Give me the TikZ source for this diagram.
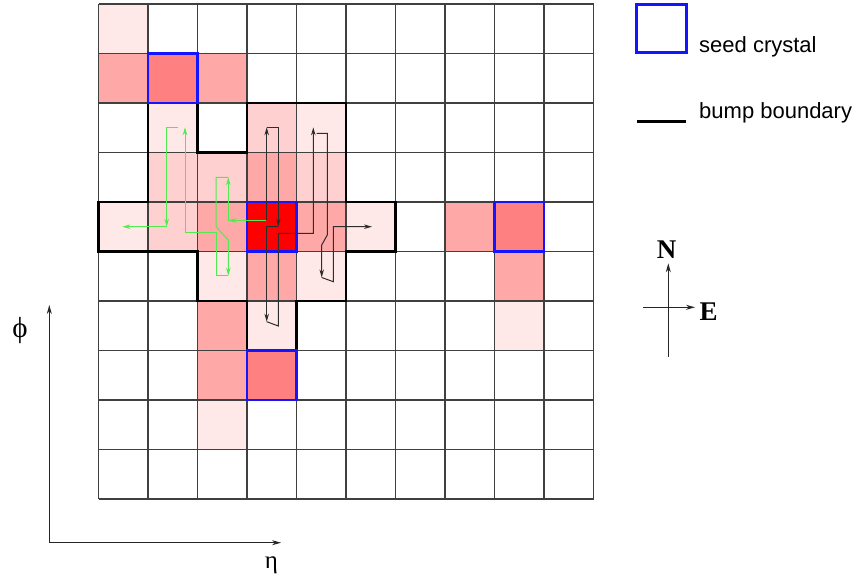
\documentclass[tikz,border=0pt]{standalone}
\usepackage{fontspec}
\setmainfont{Liberation Sans}
\newfontfamily\serifgr{Liberation Serif}
\usetikzlibrary{arrows.meta}
\definecolor{pA}{RGB}{255,232,232}
\definecolor{pB}{RGB}{255,208,208}
\definecolor{pC}{RGB}{255,168,168}
\definecolor{pD}{RGB}{255,128,128}
\definecolor{pE}{RGB}{255,0,0}
\definecolor{gline}{RGB}{80,235,80}
\definecolor{dline}{RGB}{45,45,45}
\definecolor{seedblue}{RGB}{20,20,255}
\begin{document}
\begin{tikzpicture}[x=1pt,y=-1pt,
  gridline/.style={draw=black!75,line width=1.2pt},
  bumpline/.style={draw=black,line width=2.4pt,line join=miter},
  seedbox/.style={draw=seedblue,line width=2.4pt},
  tip/.style={-{Stealth[length=8pt,width=4.5pt]}},
  garrow/.style={draw=gline,line width=1pt,tip},
  darrow/.style={draw=dline,line width=1pt,tip},
  axisarrow/.style={draw=black!85,line width=1pt,-{Stealth[length=9pt,width=5pt]}},
  lbl/.style={inner sep=0pt,anchor=base west,font=\fontsize{22}{24}\selectfont}]
\useasboundingbox (0,0) rectangle (858,580);
\fill[white] (0,0) rectangle (858,580);
% cell fills
\foreach \c/\r/\col in {0/0/pA, 0/1/pC, 1/1/pD, 2/1/pC,
  1/2/pA, 3/2/pB, 4/2/pA,
  1/3/pB, 2/3/pB, 3/3/pC, 4/3/pB,
  0/4/pA, 1/4/pB, 2/4/pC, 3/4/pE, 4/4/pC, 5/4/pA, 7/4/pC, 8/4/pD,
  2/5/pA, 3/5/pC, 4/5/pA, 8/5/pC,
  2/6/pC, 3/6/pA, 8/6/pA,
  2/7/pC, 3/7/pD,
  2/8/pA}
  \fill[\col] ({98.5+\c*49.5},{4+\r*49.5}) rectangle ++(49.5,49.5);
% grid
\foreach \i in {0,...,10}{
  \draw[gridline] ({98.5+\i*49.5},4) -- ({98.5+\i*49.5},499);
  \draw[gridline] (98.5,{4+\i*49.5}) -- (593.5,{4+\i*49.5});
}
% bump boundary
\draw[bumpline] (148,103) -- (197.5,103) -- (197.5,152.5) -- (247,152.5) -- (247,103)
  -- (346,103) -- (346,202) -- (395.5,202) -- (395.5,251.5) -- (346,251.5)
  -- (346,301) -- (296.5,301) -- (296.5,350.5) -- (247,350.5) -- (247,301)
  -- (197.5,301) -- (197.5,251.5) -- (98.5,251.5) -- (98.5,202) -- (148,202) -- cycle;
% seed crystals
\foreach \c/\r in {1/1, 3/4, 8/4, 3/7}
  \draw[seedbox] ({98.5+\c*49.5},{4+\r*49.5}) rectangle ++(49.5,49.5);
% green path
\draw[garrow] (265.7,220.5) -- (228.3,220.5);
\draw[garrow] (228.3,220.5) -- (228.3,177.3);
\draw[garrow] (228.3,177.3) -- (216,177.3) -- (216,226.7) -- (228.3,240) -- (228.3,275.7);
\draw[garrow] (228.3,275.7) -- (216,275.7) -- (216,232.7) -- (185,232.7) -- (185,127.3);
\draw[garrow] (178,127.3) -- (166.7,127.3) -- (166.7,226.7);
\draw[garrow] (166.7,226.7) -- (122.3,226.7);
% dark path
\draw[darrow] (266.7,220) -- (266.7,127.3);
\draw[darrow] (266.7,127.3) -- (278.3,127.3) -- (278.3,226.7);
\draw[darrow] (278.3,226.7) -- (266.7,226.7) -- (266.7,321.7);
\draw[darrow] (266.7,321.7) -- (278.3,326) -- (278.3,233.3) -- (313.3,233.3) -- (313.3,127.3);
\draw[darrow] (316.7,133.3) -- (327.3,133.3) -- (327.3,235) -- (321.7,245) -- (321.7,277.5);
\draw[darrow] (321.7,277.5) -- (333.3,281.7) -- (333.3,226.7) -- (372,226.7);
% legend
\draw[seedbox] (636.5,4.5) rectangle (686.5,52.5);
\node[lbl] (seedtxt) at (699,52.5) {seed crystal};
\draw[draw=black,line width=2.4pt] (637,121.5) -- (686,121.5);
\node[lbl] (bumptxt) at (699,119) {bump boundary};
% compass
\coordinate (cS) at (668.3,356.7);
\coordinate (cN) at (668.3,263.3);
\coordinate (cW) at (643.3,307.3);
\coordinate (cE) at (695,307.3);
\draw[axisarrow] (cS) -- (cN);
\draw[axisarrow] (cW) -- (cE);
\node[inner sep=0pt,anchor=base,font=\serifgr\bfseries\fontsize{27}{30}\selectfont] (Nlbl) at (666.5,258.3) {N};
\node[inner sep=0pt,anchor=base west,font=\serifgr\bfseries\fontsize{27}{30}\selectfont] (Elbl) at (699.5,320) {E};
% axes
\coordinate (ax0) at (49.3,542.7);
\coordinate (axY) at (49.3,305);
\coordinate (axX) at (281,542.7);
\draw[axisarrow] (ax0) -- (axY);
\draw[axisarrow] (ax0) -- (axX);
\node[inner sep=0pt,font=\serifgr\fontsize{29}{31}\selectfont] (phi) at (20,331) {ϕ};
\node[inner sep=0pt,font=\serifgr\fontsize{25}{27}\selectfont] (eta) at (271.5,565) {η};
\end{tikzpicture}
\end{document}
